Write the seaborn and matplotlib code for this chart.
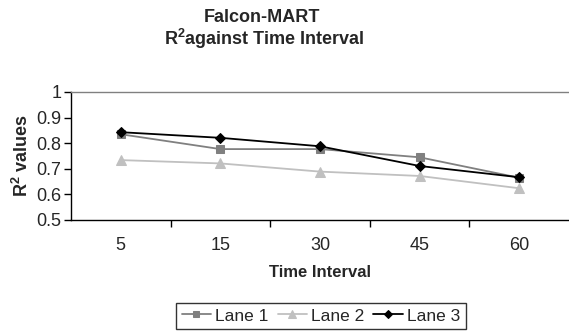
import matplotlib
matplotlib.use("Agg")
import matplotlib.pyplot as plt
import seaborn as sns
import pandas as pd
import numpy as np

categories = ["5", "15", "30", "45", "60"]
lane1 = [0.835, 0.777, 0.777, 0.745, 0.665]
lane2 = [0.734, 0.721, 0.689, 0.672, 0.624]
lane3 = [0.843, 0.821, 0.788, 0.711, 0.667]
series_names = ["Lane 1", "Lane 2", "Lane 3"]
y_ticks = [0.5, 0.6, 0.7, 0.8, 0.9, 1.0]
y_tick_labels = ["0.5", "0.6", "0.7", "0.8", "0.9", "1"]

sns.set_theme(style="white")
plt.rcParams["font.family"] = ["Liberation Sans", "DejaVu Sans"]
plt.rcParams["mathtext.fontset"] = "custom"
plt.rcParams["mathtext.rm"] = "Liberation Sans"
plt.rcParams["mathtext.bf"] = "Liberation Sans:bold"

df = pd.DataFrame({
    "Time Interval": categories * 3,
    "R2": lane1 + lane2 + lane3,
    "Series": [s for s in series_names for _ in categories],
})

fig = plt.figure(figsize=(5.69, 3.32), dpi=100)
ax = fig.add_axes([71/569, 1 - 220/332, (569 - 71)/569, (220 - 92)/332])

palette = {"Lane 1": "#808080", "Lane 2": "#c0c0c0", "Lane 3": "#000000"}
markers = {"Lane 1": "s", "Lane 2": "^", "Lane 3": "D"}
msizes = {"Lane 1": 6, "Lane 2": 7, "Lane 3": 5.5}

for s in series_names:
    sub = df[df["Series"] == s]
    sns.lineplot(data=sub, x="Time Interval", y="R2", ax=ax, color=palette[s],
                 marker=markers[s], markersize=msizes[s], markeredgecolor=palette[s],
                 linewidth=1.3, label=s, sort=False)

fs = 13
ax.set_xlim(-0.5, len(categories) - 0.5)
ax.set_ylim(0.5, 1.0)
ax.set_yticks(y_ticks)
ax.set_yticklabels(y_tick_labels, fontsize=fs)
ax.set_xticks(range(len(categories)))
ax.set_xticklabels(categories, fontsize=fs)
ax.tick_params(axis="x", which="major", length=0, pad=12)
ax.set_xticks(np.arange(0.5, len(categories) - 1, 1.0), minor=True)
ax.tick_params(axis="x", which="minor", length=5, width=1, color="black", direction="out", bottom=True)
ax.tick_params(axis="y", which="major", length=5, width=1, color="black", direction="out", left=True, pad=2)

for side in ["left", "bottom"]:
    ax.spines[side].set_color("black")
    ax.spines[side].set_linewidth(1)
ax.spines["top"].set_color("#808080")
ax.spines["top"].set_linewidth(1)
ax.spines["right"].set_visible(False)

ax.set_xlabel("Time Interval", fontsize=12, fontweight="bold", labelpad=8)
ax.set_ylabel(r"$\mathbf{R}^{\mathbf{2}}$ values", fontsize=13, fontweight="bold", labelpad=3)

fig.text(262/569, 1 - 17/332, "Falcon-MART", ha="center", va="center",
         fontsize=13, fontweight="bold")
fig.text(264/569, 1 - 39/332, r"$\mathbf{R}^{\mathbf{2}}$against Time Interval", ha="center", va="center",
         fontsize=13, fontweight="bold")

leg = ax.legend(loc="center", bbox_to_anchor=(321/569, 1 - 316/332),
                bbox_transform=fig.transFigure, ncol=3, frameon=True, fancybox=False,
                fontsize=12.5, handlelength=1.7, handletextpad=0.25, columnspacing=0.5,
                borderpad=0.3, markerscale=0.75)
leg.get_frame().set_edgecolor("black")
leg.get_frame().set_linewidth(1)

fig.savefig("out.png", dpi=100)
